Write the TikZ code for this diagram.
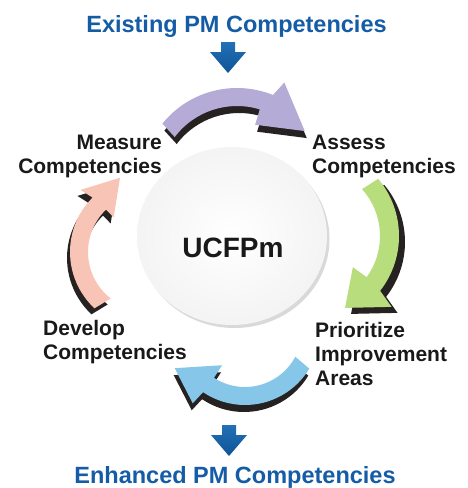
\documentclass[tikz,border=0pt]{standalone}
\usepackage{fontspec}
\setmainfont{Liberation Sans}
\definecolor{titleblue}{RGB}{20,92,166}
\definecolor{flowblue}{RGB}{34,112,182}
\definecolor{flowdark}{RGB}{16,84,150}
\definecolor{lavender}{RGB}{180,172,214}
\definecolor{leafgreen}{RGB}{184,221,125}
\definecolor{skyblue}{RGB}{134,198,232}
\definecolor{salmon}{RGB}{247,196,181}
\definecolor{undershade}{RGB}{38,34,34}

% curved cycle arrows, each drawn around its own arc centre
\newcommand\assessarc{(219:96) arc[start angle=219,end angle=292,radius=96] -- (295:112) -- (322:86) -- (287:62) -- (287:78) arc[start angle=287,end angle=217,radius=78] -- cycle}
\newcommand\prioritizearc{(-40:89) arc[start angle=-40,end angle=38,radius=89] -- (41:108) -- (64:80) -- (36:53) -- (36:70) arc[start angle=36,end angle=-42,radius=70] -- cycle}
\newcommand\developarc{(31:75) arc[start angle=31,end angle=124,radius=75] -- (125.5:90) -- (151.5:80) -- (123:42) -- (123:57) arc[start angle=123,end angle=28,radius=57] -- cycle}
\newcommand\measurearc{(133:77) arc[start angle=133,end angle=225,radius=77] -- (223:91) -- (250:79) -- (226:48) -- (226:59) arc[start angle=226,end angle=128,radius=59] -- cycle}
% straight block arrow pointing down
\newcommand\flowarrow{(-7,0) -- (7,0) -- (7,10) -- (18,10) -- (0,31) -- (-18,10) -- (-7,10) -- cycle}

\tikzset{
  cyclabel/.style={font=\fontsize{21}{24}\selectfont\bfseries, inner sep=0pt, text=black!90},
  heading/.style={font=\fontsize{23.5}{26}\selectfont\bfseries, inner sep=0pt, text=titleblue, anchor=base},
  hubtext/.style={font=\fontsize{28}{30}\selectfont\bfseries, inner sep=0pt, text=black!90},
  flow/.style={top color=flowblue, bottom color=flowdark}
}

\begin{document}
\begin{tikzpicture}[x=1pt,y=-1pt]
\useasboundingbox (0,0) rectangle (467,488);

% central hub disc with its soft shadow
\fill[gray!30] (234.5,239) ellipse[x radius=95, y radius=89];
\shade[inner color=white, outer color=gray!9] (232,236) ellipse[x radius=95, y radius=89];
\node[hubtext] (hub) at (233,248) {UCFPm};

% cycle arrows with their dark undersides
\begin{scope}[shift={(237,184)}]
  \fill[undershade, shift={(2,7)}] \assessarc;
  \fill[lavender] \assessarc;
\end{scope}
\begin{scope}[shift={(310,236)}]
  \fill[undershade, shift={(6,6)}] \prioritizearc;
  \fill[leafgreen] \prioritizearc;
\end{scope}
\begin{scope}[shift={(245,330)}]
  \fill[undershade, shift={(-1,7)}] \developarc;
  \fill[skyblue] \developarc;
\end{scope}
\begin{scope}[shift={(147,252)}]
  \fill[undershade, shift={(-3,6)}] \measurearc;
  \fill[salmon] \measurearc;
\end{scope}

% step labels (base anchor sits on the last line)
\node[cyclabel, align=right, anchor=base east] (measure) at (162,173) {Measure\\Competencies};
\node[cyclabel, align=left, anchor=base west] (assess) at (312,173) {Assess\\Competencies};
\node[cyclabel, align=left, anchor=base west] (prioritize) at (315,385) {Prioritize\\Improvement\\Areas};
\node[cyclabel, align=left, anchor=base west] (develop) at (43,359) {Develop\\Competencies};

% input and output
\node[heading] (existing) at (236.5,32) {Existing PM Competencies};
\node[heading] (enhanced) at (235,483) {Enhanced PM Competencies};
\shade[flow, shift={(228,42)}] \flowarrow;
\shade[flow, shift={(229,425)}] \flowarrow;
\end{tikzpicture}
\end{document}
